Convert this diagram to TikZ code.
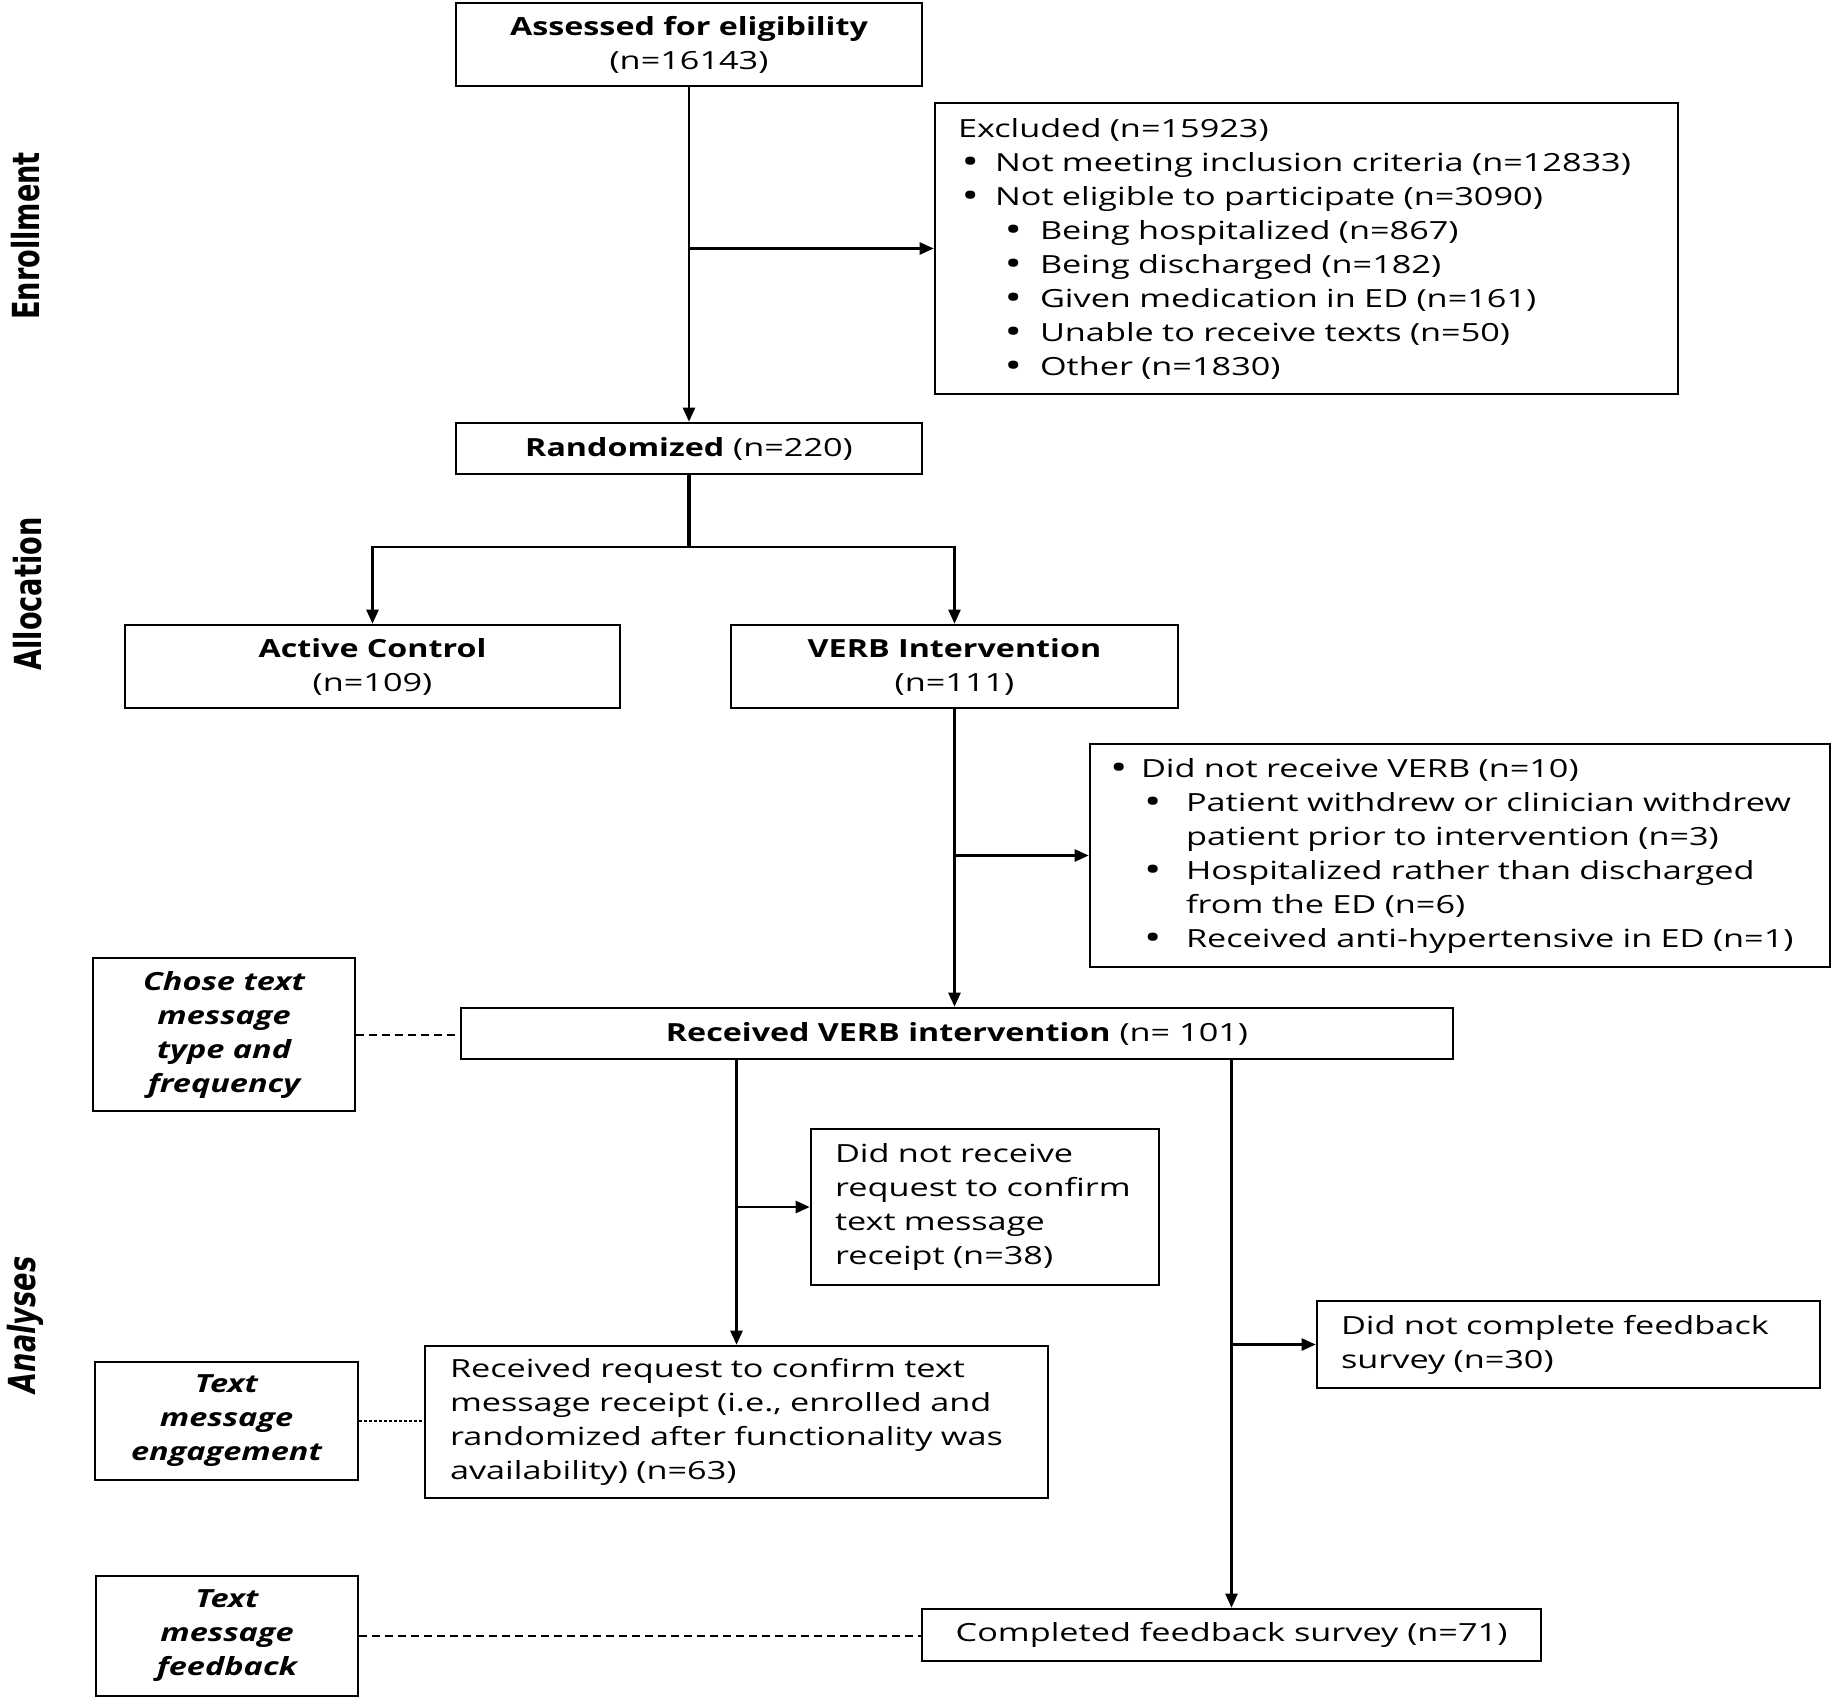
\documentclass[tikz,border=0pt]{standalone}
\usepackage{fontspec}
\setmainfont{Open Sans}[FakeStretch=1.37, BoldFeatures={FakeStretch=1.29}, BoldItalicFeatures={FakeStretch=1.3}]
\newfontfamily\sidefont{DejaVu Sans}
\usepackage{graphicx}
\usetikzlibrary{arrows.meta}

\newcommand{\bigbul}{\raisebox{-1.4pt}{\scalebox{1.35}{\textbullet}}}
\newcommand{\firstbul}{\makebox[18.5pt][l]{\hspace{1.8pt}\bigbul}}
\newcommand{\secondbul}{\makebox[41pt][l]{\hspace{23.3pt}\bigbul}}
\newcommand{\vbul}{\makebox[15.5pt][l]{\hspace{0pt}\bigbul}}
\newcommand{\vsubbul}{\makebox[38pt][l]{\hspace{17pt}\bigbul}}

\begin{document}
\begin{tikzpicture}[
x=0.5pt, y=-0.5pt,
font=\fontsize{12.5pt}{17pt}\selectfont,
box/.style={draw=black, line width=1.3pt, inner sep=0pt, align=center},
listbox/.style={draw=black, line width=1.3pt, inner ysep=0pt, align=left},
note/.style={draw=black, line width=1.3pt, inner sep=0pt, align=center, font=\fontsize{12.5pt}{17pt}\selectfont\bfseries\itshape},
side/.style={rotate=90, font=\sidefont\bfseries\fontsize{13.6pt}{16pt}\selectfont},
link/.style={line width=1.2pt},
arr/.style={line width=1.2pt, -{Triangle[length=7pt, width=6pt]}},
dashlink/.style={line width=1pt, dash pattern=on 4pt off 2.5pt},
dotlink/.style={line width=1pt, dash pattern=on 1.2pt off 1.3pt},
]
\useasboundingbox (0,0) rectangle (1832,1698);

% Define a grid using coordinates (centres of the boxes)
\coordinate (g_assess) at (689,44.5);      % Top
\coordinate (g_excl) at (1306.5,248.5);    % Top-right
\coordinate (g_rand) at (689,448.5);       % Randomisation
\coordinate (g_ctrl) at (372.5,666.5);     % Arm left
\coordinate (g_verb) at (954.5,666.5);     % Arm right
\coordinate (g_notverb) at (1460,855.5);   % Middle-right
\coordinate (g_recv) at (957,1033.5);      % Middle
\coordinate (g_chose) at (224,1034.5);     % Middle-left
\coordinate (g_notreq) at (985,1207);      % Lower-middle
\coordinate (g_recreq) at (736.5,1422);    % Lower-left
\coordinate (g_engage) at (226.5,1421);    % Lower far left
\coordinate (g_nofb) at (1568.5,1344.5);   % Lower-right
\coordinate (g_done) at (1231.5,1635);     % Bottom-right
\coordinate (g_fbk) at (227,1636);         % Bottom-left

% Nodes at grid points
\node[box, minimum width=233pt, minimum height=41.5pt] (assess) at (g_assess) {\textbf{Assessed for eligibility}\\(n=16143)};
\node[listbox, inner xsep=11.5pt, text width=348.5pt, minimum height=145.5pt] (excl) at (g_excl) {Excluded (n=15923)\\
\firstbul Not meeting inclusion criteria (n=12833)\\
\firstbul Not eligible to participate (n=3090)\\
\secondbul Being hospitalized (n=867)\\
\secondbul Being discharged (n=182)\\
\secondbul Given medication in ED (n=161)\\
\secondbul Unable to receive texts (n=50)\\
\secondbul Other (n=1830)};
\node[box, minimum width=233pt, minimum height=25.5pt] (rand) at (g_rand) {\textbf{Randomized} (n=220)};

\node[box, minimum width=247.5pt, minimum height=41.5pt] (ctrl) at (g_ctrl) {\textbf{Active Control}\\(n=109)};
\node[box, minimum width=223.5pt, minimum height=41.5pt] (verb) at (g_verb) {\textbf{VERB Intervention}\\(n=111)};
\node[listbox, inner xsep=10pt, text width=350pt, minimum height=111.5pt] (notverb) at (g_notverb) {\vbul Did not receive VERB (n=10)\\
\vsubbul Patient withdrew or clinician withdrew\\
\hspace*{38pt}patient prior to intervention (n=3)\\
\vsubbul Hospitalized rather than discharged\\
\hspace*{38pt}from the ED (n=6)\\
\vsubbul Received anti-hypertensive in ED (n=1)};

\node[box, minimum width=496pt, minimum height=25.5pt] (recv) at (g_recv) {\textbf{Received VERB intervention} (n= 101)};
\node[note, minimum width=131pt, minimum height=76.5pt] (chose) at (g_chose) {Chose text\\message\\type and\\frequency};

\node[listbox, inner xsep=12pt, text width=150pt, minimum height=78pt] (notreq) at (g_notreq) {Did not receive\\request to confirm\\text message\\receipt (n=38)};
\node[listbox, inner xsep=12.5pt, text width=286.5pt, minimum height=76pt] (recreq) at (g_recreq) {Received request to confirm text\\message receipt (i.e., enrolled and\\randomized after functionality was\\availability) (n=63)};
\node[note, minimum width=131.5pt, minimum height=59pt] (engage) at (g_engage) {Text\\message\\engagement};
\node[listbox, inner xsep=12pt, text width=227.5pt, minimum height=43.5pt] (nofb) at (g_nofb) {Did not complete feedback\\survey (n=30)};
\node[box, minimum width=309.5pt, minimum height=26pt] (done) at (g_done) {Completed feedback survey (n=71)};
\node[note, minimum width=131pt, minimum height=60pt] (fbk) at (g_fbk) {Text\\message\\feedback};

% Draw stages
\node[side] (enroll) at (26,236) {\scalebox{1}[1.37]{Enrollment}};
\node[side] (alloc) at (28,594) {\scalebox{1}[1.37]{Allocation}};
\node[side] (analy) at (25,1325) {\scalebox{1}[1.37]{\itshape Analyses}};

% Draw connecting arrows
\draw[arr] (assess) -- (rand);
\draw[arr] (assess.south |- excl.west) -- (excl.west);
\coordinate (split) at (689,547);
\draw[link, line width=1.8pt] (rand) -- (split);
\draw[arr] (split) -| (ctrl);
\draw[arr] (split) -| (verb);
\draw[arr] (verb.south) -- (verb.south |- recv.north);
\draw[arr] (verb.south |- notverb.west) -- (notverb.west);
\draw[dashlink] (chose.east) -- (chose.east -| recv.west);
\draw[arr] (recv.south -| recreq.north) -- (recreq.north);
\draw[arr] (recreq.north |- notreq.west) -- (notreq.west);
\draw[dotlink] (engage.east) -- (engage.east -| recreq.west);
\draw[arr] (recv.south -| done.north) -- (done.north);
\draw[arr] (done.north |- nofb.west) -- (nofb.west);
\draw[dashlink] (fbk.east) -- (fbk.east -| done.west);

\end{tikzpicture}
\end{document}
